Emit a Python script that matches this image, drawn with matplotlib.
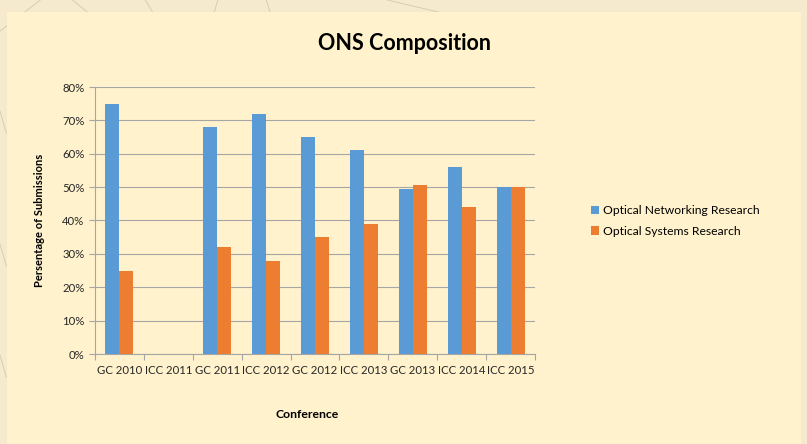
import matplotlib.pyplot as plt
import numpy as np
from matplotlib.patches import Rectangle
from matplotlib.ticker import PercentFormatter

plt.rcParams['font.family'] = ['Lato', 'DejaVu Sans']

# data
conferences = ['GC 2010', 'ICC 2011', 'GC 2011', 'ICC 2012', 'GC 2012',
               'ICC 2013', 'GC 2013', 'ICC 2014', 'ICC 2015']
networking = [0.75, 0.0, 0.68, 0.72, 0.65, 0.61, 0.494, 0.56, 0.50]
systems = [0.25, 0.0, 0.32, 0.28, 0.35, 0.39, 0.506, 0.44, 0.50]

blue = '#5B9BD5'
orange = '#ED7D31'
grid_col = '#A6A6A6'

fig = plt.figure(figsize=(8.07, 4.44), dpi=100)
fig.patch.set_facecolor('#F5EACD')

# faint decorative lines of the slide background
for x0, y0, x1, y1 in [(0.0, 0.93, 0.05, 1.0), (0.09, 1.0, 0.11, 0.97), (0.18, 1.0, 0.19, 0.97),
                       (0.27, 1.0, 0.265, 0.97), (0.33, 1.0, 0.335, 0.97), (0.48, 1.0, 0.55, 0.97),
                       (0.0, 0.75, 0.008, 0.7), (0.0, 0.45, 0.008, 0.4), (0.0, 0.2, 0.008, 0.15)]:
    fig.add_artist(plt.Line2D([x0, x1], [y0, y1], color='#D8CDB4', lw=0.7, zorder=0))

# cream chart area
fig.add_artist(Rectangle((7 / 807, 0), 794 / 807, 432 / 444, transform=fig.transFigure,
                         facecolor='#FFF2CC', edgecolor='none', zorder=0))

ax = fig.add_axes([95 / 807, 90 / 444, 440 / 807, 267 / 444])
ax.set_facecolor('none')

x = np.arange(len(conferences))
w = 0.286
ax.bar(x - w / 2, networking, w, color=blue, label='Optical Networking Research', zorder=3)
ax.bar(x + w / 2, systems, w, color=orange, label='Optical Systems Research', zorder=3)

ax.set_xlim(-0.5, len(conferences) - 0.5)
ax.set_ylim(0, 0.8)
ax.set_yticks(np.arange(0, 0.81, 0.1))
ax.yaxis.set_major_formatter(PercentFormatter(1.0, decimals=0))
ax.set_xticks(x)
ax.set_xticklabels(conferences)
ax.set_xticks(np.arange(-0.5, len(conferences), 1), minor=True)
ax.tick_params(axis='x', which='major', length=0, labelsize=8.2, pad=8)
ax.tick_params(axis='x', which='minor', length=4, color=grid_col, width=0.8)
ax.tick_params(axis='y', length=4, color=grid_col, width=0.8, labelsize=8.2)
for lbl in ax.get_xticklabels() + ax.get_yticklabels():
    lbl.set_color('#262626')

ax.grid(axis='y', color=grid_col, lw=0.8, zorder=0)
for s in ['top', 'right']:
    ax.spines[s].set_visible(False)
for s in ['left', 'bottom']:
    ax.spines[s].set_color(grid_col)
    ax.spines[s].set_linewidth(0.8)

fig.text(405 / 807, 1 - 44 / 444, 'ONS Composition', ha='center', va='center',
         fontsize=15.5, fontweight='bold')
fig.text(40 / 807, 1 - 220 / 444, 'Persentage of Submissions', rotation=90, ha='center',
         va='center', fontsize=8, fontweight='bold')
fig.text(307 / 807, 1 - 414 / 444, 'Conference', ha='center', va='center',
         fontsize=8.8, fontweight='bold')

ax.legend(loc='center left', bbox_to_anchor=(580 / 807, 1 - 221 / 444),
          bbox_transform=fig.transFigure, frameon=False, fontsize=8.7,
          handlelength=0.7, handleheight=0.7, handletextpad=0.3, labelspacing=0.75)

fig.savefig('out.png', dpi=100, facecolor=fig.get_facecolor())
